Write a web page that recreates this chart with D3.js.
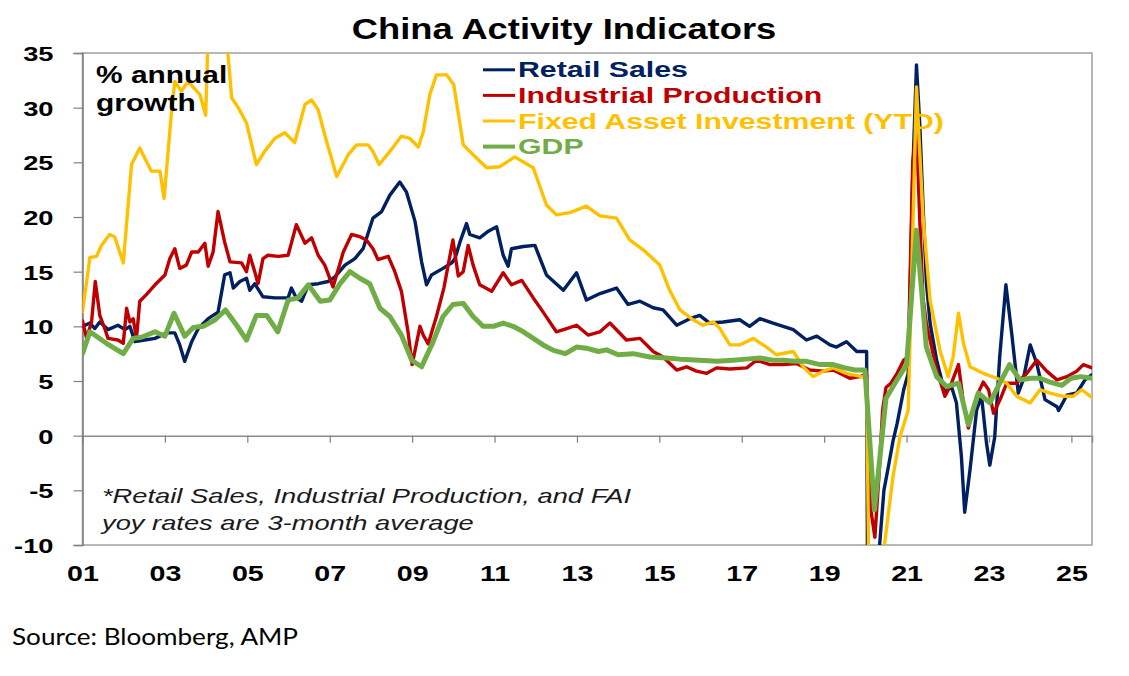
<!DOCTYPE html>
<html>
<head>
<meta charset="utf-8">
<title>China Activity Indicators</title>
<script src="https://cdn.jsdelivr.net/npm/d3@7"></script>
<style>
    body {margin: 0; background: #fff;}
    svg text {font-family: "Liberation Sans", Arial, sans-serif;}
    .tick text {font-weight: bold; font-size: 21px; fill: #000;}
    .series {fill: none; stroke-linejoin: round; stroke-linecap: round;}
</style>
</head>
<body>
<div id="chart"></div>
<script>
// values: [decimal year, % yoy]
const retailSales = [[2001.00,10.0],[2001.18,10.3],[2001.30,9.8],[2001.42,10.4],[2001.62,9.7],[2001.86,10.1],[2002.03,9.7],[2002.15,10.0],[2002.27,8.6],[2002.51,8.75],[2002.76,8.9],[2003.04,9.4],[2003.24,9.4],[2003.36,8.3],[2003.48,6.8],[2003.65,8.6],[2003.81,9.8],[2004.05,10.7],[2004.29,11.3],[2004.45,14.7],[2004.58,14.9],[2004.66,13.5],[2004.82,14.1],[2004.98,14.4],[2005.06,13.3],[2005.18,13.9],[2005.38,12.7],[2005.67,12.6],[2005.99,12.6],[2006.07,13.5],[2006.19,12.6],[2006.32,12.3],[2006.48,13.8],[2006.72,13.9],[2006.96,14.1],[2007.12,14.5],[2007.37,15.6],[2007.61,16.2],[2007.81,17.1],[2008.05,19.9],[2008.26,20.5],[2008.46,22.0],[2008.70,23.2],[2008.86,22.3],[2009.07,19.6],[2009.23,15.9],[2009.35,13.8],[2009.47,14.7],[2009.75,15.3],[2009.96,15.8],[2010.04,16.2],[2010.16,17.7],[2010.32,19.4],[2010.40,18.4],[2010.64,18.1],[2010.85,18.7],[2011.05,19.1],[2011.21,16.5],[2011.33,15.5],[2011.41,17.1],[2011.70,17.3],[2011.98,17.4],[2012.26,14.7],[2012.67,13.3],[2012.99,14.9],[2013.23,12.4],[2013.56,13.0],[2013.96,13.5],[2014.24,12.0],[2014.53,12.3],[2014.85,11.7],[2015.09,11.5],[2015.42,10.1],[2015.74,10.7],[2015.98,11.0],[2016.22,10.3],[2016.55,10.4],[2016.95,10.6],[2017.19,10.0],[2017.44,10.7],[2017.76,10.3],[2018.25,9.7],[2018.57,8.75],[2018.82,9.1],[2019.14,8.3],[2019.30,8.1],[2019.54,8.6],[2019.79,7.7],[2020.03,7.7],[2020.05,-11],[2020.15,-19],[2020.25,-14.6],[2020.36,-9.3],[2020.45,-5],[2020.56,-2.8],[2020.67,-0.5],[2020.77,1.1],[2020.93,4.2],[2021.04,5.7],[2021.15,24],[2021.24,33.9],[2021.32,28.5],[2021.40,21],[2021.48,14],[2021.57,10.3],[2021.73,6.9],[2021.93,3.9],[2022.09,4.5],[2022.21,3.0],[2022.33,-1.9],[2022.41,-7.0],[2022.54,-3.1],[2022.70,2.35],[2022.82,3.6],[2022.94,-0.7],[2023.02,-2.7],[2023.14,-0.1],[2023.26,7.2],[2023.41,13.8],[2023.55,9.4],[2023.71,3.9],[2023.83,5.1],[2024.00,8.3],[2024.16,6.6],[2024.36,3.3],[2024.65,2.65],[2024.69,2.3],[2024.89,3.7],[2025.13,3.9],[2025.33,5.1],[2025.49,5.55]];

const industrialProd = [[2001.00,10.5],[2001.10,8.9],[2001.22,10.4],[2001.31,14.1],[2001.42,11.0],[2001.54,9.8],[2001.62,8.9],[2001.86,8.75],[2001.99,8.45],[2002.07,11.65],[2002.15,10.4],[2002.23,10.7],[2002.31,8.9],[2002.39,12.3],[2002.55,12.9],[2002.76,13.8],[2003.00,14.7],[2003.12,16.2],[2003.24,17.1],[2003.36,15.3],[2003.52,15.6],[2003.65,16.8],[2003.81,16.8],[2003.97,17.6],[2004.05,15.5],[2004.17,16.8],[2004.29,20.5],[2004.45,17.7],[2004.58,15.9],[2004.86,15.8],[2004.98,15.0],[2005.06,16.5],[2005.18,15.0],[2005.26,13.9],[2005.38,16.2],[2005.50,16.5],[2005.75,16.4],[2005.99,16.5],[2006.19,19.3],[2006.40,17.6],[2006.56,18.1],[2006.72,16.5],[2006.88,15.6],[2007.08,13.6],[2007.33,16.8],[2007.53,18.4],[2007.73,18.2],[2007.89,17.9],[2008.05,17.1],[2008.17,16.1],[2008.42,16.4],[2008.58,15.0],[2008.74,13.2],[2008.90,9.5],[2009.00,6.5],[2009.19,10.0],[2009.27,9.2],[2009.39,8.4],[2009.59,10.9],[2009.77,13.5],[2009.99,17.9],[2010.12,14.6],[2010.24,15.0],[2010.36,17.4],[2010.48,15.6],[2010.64,13.8],[2010.93,13.2],[2011.21,14.9],[2011.41,13.8],[2011.66,14.2],[2011.94,12.6],[2012.18,11.3],[2012.50,9.5],[2012.75,9.8],[2012.99,10.1],[2013.27,9.2],[2013.56,9.5],[2013.80,10.3],[2014.20,8.75],[2014.53,8.9],[2014.85,7.7],[2015.09,7.2],[2015.42,6.0],[2015.66,6.3],[2015.90,5.9],[2016.15,5.7],[2016.39,6.2],[2016.71,6.1],[2017.12,6.2],[2017.36,6.9],[2017.68,6.5],[2018.00,6.5],[2018.33,6.6],[2018.65,6.0],[2018.98,5.9],[2019.22,6.0],[2019.38,5.7],[2019.62,5.25],[2019.87,5.4],[2020.03,5.6],[2020.13,-6.7],[2020.23,-9.3],[2020.33,-3.6],[2020.42,2.4],[2020.50,4.4],[2020.62,4.8],[2020.77,5.7],[2020.93,6.9],[2021.04,7.2],[2021.15,25],[2021.24,28.3],[2021.32,19.7],[2021.40,12.5],[2021.48,10.3],[2021.73,6.0],[2021.93,3.6],[2022.09,4.8],[2022.26,6.5],[2022.38,3.0],[2022.50,0.7],[2022.70,3.6],[2022.86,4.9],[2022.99,4.2],[2023.11,2.05],[2023.27,3.3],[2023.43,4.8],[2023.67,4.8],[2023.92,5.7],[2024.16,6.9],[2024.40,5.9],[2024.65,5.1],[2024.89,5.4],[2025.13,5.9],[2025.29,6.5],[2025.50,6.2]];

const fixedAssetInv = [[2001.00,11.3],[2001.18,16.3],[2001.34,16.4],[2001.46,17.4],[2001.66,18.4],[2001.78,18.2],[2001.99,15.8],[2002.19,24.8],[2002.39,26.3],[2002.51,25.4],[2002.67,24.2],[2002.88,24.2],[2002.98,21.7],[2003.16,29.6],[2003.24,32.4],[2003.40,31.5],[2003.56,32.4],[2003.85,31.2],[2003.99,29.3],[2004.15,50],[2004.35,43],[2004.53,35],[2004.62,30.9],[2004.78,30.0],[2004.98,28.6],[2005.22,24.8],[2005.42,26.0],[2005.67,27.2],[2005.91,27.7],[2006.15,26.8],[2006.40,30.3],[2006.56,30.7],[2006.72,29.8],[2006.88,27.5],[2007.17,23.7],[2007.45,25.7],[2007.65,26.6],[2007.93,26.6],[2008.05,26.0],[2008.20,24.8],[2008.46,26.0],[2008.74,27.4],[2008.94,27.2],[2009.15,26.4],[2009.27,27.8],[2009.43,31.2],[2009.59,33.0],[2009.84,33.0],[2010.01,32.1],[2010.24,26.6],[2010.48,25.7],[2010.81,24.5],[2011.13,24.6],[2011.49,25.5],[2011.94,24.5],[2012.26,21.1],[2012.50,20.2],[2012.83,20.4],[2013.23,21.0],[2013.56,20.1],[2013.96,19.9],[2014.28,17.9],[2014.61,17.0],[2015.01,15.6],[2015.25,13.3],[2015.50,11.5],[2015.82,10.6],[2016.06,10.1],[2016.31,10.4],[2016.47,9.8],[2016.71,8.3],[2016.95,8.3],[2017.28,8.9],[2017.60,8.1],[2017.84,7.4],[2018.25,7.7],[2018.49,6.3],[2018.73,5.4],[2018.98,5.9],[2019.22,6.2],[2019.54,5.7],[2019.91,5.4],[2020.03,5.2],[2020.12,-24.5],[2020.28,-16],[2020.47,-9.8],[2020.67,-3.75],[2020.84,-0.1],[2021.04,2.35],[2021.24,31.9],[2021.40,20],[2021.57,12.4],[2021.81,7.8],[2022.01,5.4],[2022.13,7.2],[2022.26,11.2],[2022.38,8.45],[2022.54,6.3],[2022.86,5.7],[2023.19,5.25],[2023.43,4.8],[2023.67,3.6],[2024.00,3.0],[2024.24,4.2],[2024.48,3.9],[2024.80,3.6],[2025.04,3.6],[2025.25,4.2],[2025.50,3.5]];

const gdp = [[2001.00,7.5],[2001.18,9.5],[2001.58,8.45],[2001.99,7.5],[2002.23,8.9],[2002.43,9.0],[2002.76,9.5],[2003.00,9.1],[2003.22,11.2],[2003.48,9.1],[2003.69,9.9],[2003.93,10.0],[2004.22,10.6],[2004.47,11.5],[2004.74,10.1],[2004.98,8.75],[2005.22,11.0],[2005.47,11.0],[2005.74,9.5],[2005.99,12.4],[2006.23,12.6],[2006.48,13.8],[2006.77,12.3],[2007.00,12.4],[2007.25,13.9],[2007.49,15.0],[2007.73,14.4],[2007.97,13.9],[2008.22,11.65],[2008.46,10.9],[2008.74,9.2],[2008.99,6.9],[2009.23,6.3],[2009.51,8.6],[2009.75,10.9],[2009.99,12.0],[2010.24,12.1],[2010.48,10.9],[2010.72,10.0],[2010.97,10.0],[2011.21,10.3],[2011.45,10.0],[2011.70,9.5],[2011.94,8.9],[2012.18,8.3],[2012.43,7.8],[2012.72,7.5],[2012.99,8.1],[2013.23,8.0],[2013.52,7.7],[2013.72,7.85],[2014.00,7.4],[2014.36,7.5],[2014.77,7.2],[2015.17,7.1],[2015.50,7.0],[2015.98,6.9],[2016.40,6.8],[2016.79,6.9],[2017.10,7.0],[2017.44,7.1],[2017.75,6.9],[2018.00,6.9],[2018.30,6.8],[2018.57,6.8],[2018.90,6.5],[2019.22,6.5],[2019.50,6.2],[2019.75,6.0],[2019.99,6.0],[2020.22,-6.8],[2020.50,3.4],[2020.75,5.0],[2021.00,6.5],[2021.24,18.8],[2021.48,8.1],[2021.73,5.4],[2021.97,4.5],[2022.26,4.8],[2022.50,1.0],[2022.74,3.9],[2023.02,3.0],[2023.26,4.8],[2023.50,6.5],[2023.75,5.1],[2024.00,5.25],[2024.24,5.25],[2024.48,4.9],[2024.77,4.6],[2024.99,5.25],[2025.23,5.4],[2025.50,5.25]];

const seriesNames = ['Retail Sales', 'Industrial Production', 'Fixed Asset Investment (YTD)', 'GDP'];
const seriesColors = ['#002060', '#c00000', '#ffc000', '#70ad47'];
const yTicks = [-10, -5, 0, 5, 10, 15, 20, 25, 30, 35];
const xTicks = [2001, 2003, 2005, 2007, 2009, 2011, 2013, 2015, 2017, 2019, 2021, 2023, 2025];

const w = 1129;
const h = 676;
const plot = {left: 82.5, right: 1092, top: 53, bottom: 545};
// the original picture is stretched sideways, so text is widened to match
const stretch = 1.3;

const svg = d3.select('#chart').append('svg')
    .attr('width', w)
    .attr('height', h);

function widen(sel, k) {
    sel.each(function() {
        const len = this.getComputedTextLength();
        d3.select(this).attr('textLength', len * k).attr('lengthAdjust', 'spacingAndGlyphs');
    });
}

const x = d3.scaleLinear().domain([2001, 2025.5]).range([plot.left, plot.right]);
const y = d3.scaleLinear().domain([-10, 35]).range([plot.bottom, plot.top]);

svg.append('defs').append('clipPath').attr('id', 'clip')
    .append('rect')
    .attr('x', plot.left).attr('y', plot.top)
    .attr('width', plot.right - plot.left).attr('height', plot.bottom - plot.top);

// frame
svg.append('rect')
    .attr('x', plot.left).attr('y', plot.top)
    .attr('width', plot.right - plot.left).attr('height', plot.bottom - plot.top)
    .attr('fill', 'none').attr('stroke', '#a0a0a0').attr('stroke-width', 1.5);

// y axis
const yAxis = svg.append('g')
    .attr('transform', `translate(${plot.left},0)`)
    .call(d3.axisLeft(y).tickValues(yTicks).tickSize(9).tickPadding(20).tickFormat(d => String(d)));
yAxis.select('.domain').attr('stroke', '#7f7f7f').attr('stroke-width', 1.5);
yAxis.selectAll('.tick line').attr('stroke', '#7f7f7f').attr('stroke-width', 1.2);
yAxis.selectAll('.tick text').attr('dy', '0.36em').call(widen, stretch);

// zero line with year ticks
const zeroAxis = svg.append('g')
    .attr('transform', `translate(0,${y(0)})`)
    .call(d3.axisBottom(x).tickValues(xTicks).tickSize(7).tickFormat(''));
zeroAxis.select('.domain').attr('stroke', '#8c8c8c').attr('stroke-width', 1.5);
zeroAxis.selectAll('.tick line').attr('stroke', '#7f7f7f').attr('stroke-width', 1.2);

// year labels below the frame
const xAxis = svg.append('g')
    .attr('transform', `translate(0,${plot.bottom})`)
    .call(d3.axisBottom(x).tickValues(xTicks).tickSize(0).tickPadding(20)
        .tickFormat(d => String(d % 100).padStart(2, '0')));
xAxis.select('.domain').remove();
xAxis.selectAll('.tick text').style('font-size', '22px').call(widen, stretch);

// series
const line = d3.line().x(d => x(d[0])).y(d => y(d[1]));
const allSeries = [retailSales, industrialProd, fixedAssetInv, gdp];
const widths = [3.4, 3.4, 3.4, 5];

svg.append('g').attr('clip-path', 'url(#clip)')
    .selectAll('path')
    .data(allSeries)
    .join('path')
    .attr('class', 'series')
    .attr('d', line)
    .attr('stroke', (d, i) => seriesColors[i])
    .attr('stroke-width', (d, i) => widths[i]);

// title
svg.append('text')
    .attr('x', 564).attr('y', 39)
    .attr('text-anchor', 'middle')
    .style('font-weight', 'bold').style('font-size', '29px')
    .text('China Activity Indicators')
    .call(widen, 422 / 337);

// unit label
const unit = svg.append('text')
    .attr('x', 96).attr('y', 83)
    .style('font-weight', 'bold').style('font-size', '23px');
unit.append('tspan').attr('x', 96).text('% annual');
unit.append('tspan').attr('x', 96).attr('dy', 28).text('growth');
unit.selectAll('tspan').call(widen, stretch);

// legend
const legend = svg.append('g')
    .selectAll('g')
    .data(seriesNames)
    .join('g')
    .attr('transform', (d, i) => `translate(483,${77.3 + i * 25.6})`);
legend.append('line')
    .attr('x1', 0).attr('x2', 32).attr('y1', -7.5).attr('y2', -7.5)
    .attr('stroke', (d, i) => seriesColors[i])
    .attr('stroke-width', (d, i) => i === 3 ? 4 : 3);
legend.append('text')
    .attr('x', 35).attr('y', 0)
    .style('font-weight', 'bold').style('font-size', '22px')
    .attr('fill', (d, i) => seriesColors[i])
    .text(d => d)
    .call(widen, 1.375);

// footnote
const note = svg.append('text')
    .attr('x', 102).attr('y', 503)
    .style('font-style', 'italic').style('font-size', '21px').attr('fill', '#1a1a1a');
note.append('tspan').attr('x', 102).text('*Retail Sales, Industrial Production, and FAI');
note.append('tspan').attr('x', 102).attr('dy', 26.5).text('yoy rates are 3-month average');
note.selectAll('tspan').call(widen, stretch);

// source
svg.append('text')
    .attr('x', 12).attr('y', 645)
    .style('font-family', 'Lato, "Open Sans", sans-serif').style('font-size', '24px')
    .text('Source: Bloomberg, AMP')
    .call(widen, 285 / 262);
</script>
</body>
</html>
